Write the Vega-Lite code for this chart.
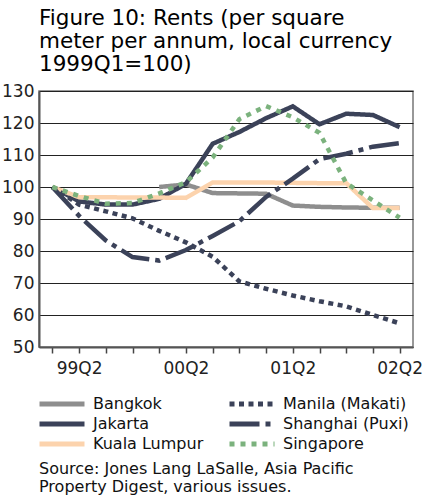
{
  "$schema": "https://vega.github.io/schema/vega-lite/v6.json",
  "width": 374,
  "height": 256,
  "padding": {"left": 1, "top": 7, "right": 5, "bottom": 0},
  "background": "white",
  "title": {
    "text": ["Figure 10: Rents (per square", "meter per annum, local currency", "1999Q1=100)"],
    "anchor": "start",
    "frame": "group",
    "font": "DejaVu Sans",
    "fontSize": 21.5,
    "fontWeight": "normal",
    "color": "#000000",
    "lineHeight": 23,
    "offset": 7
  },
  "config": {
    "font": "DejaVu Sans",
    "view": {"stroke": "#777777", "strokeWidth": 1.5}
  },
  "data": {
    "values": [
      {"q": "00Q1", "city": "Bangkok", "v": 100.0},
      {"q": "00Q2", "city": "Bangkok", "v": 100.8},
      {"q": "00Q3", "city": "Bangkok", "v": 98.1},
      {"q": "00Q4", "city": "Bangkok", "v": 98.0},
      {"q": "01Q1", "city": "Bangkok", "v": 97.9},
      {"q": "01Q2", "city": "Bangkok", "v": 94.2},
      {"q": "01Q3", "city": "Bangkok", "v": 93.8},
      {"q": "01Q4", "city": "Bangkok", "v": 93.6},
      {"q": "02Q1", "city": "Bangkok", "v": 93.5},
      {"q": "02Q2", "city": "Bangkok", "v": 93.5},
      {"q": "99Q1", "city": "Jakarta", "v": 100.0},
      {"q": "99Q2", "city": "Jakarta", "v": 95.5},
      {"q": "99Q3", "city": "Jakarta", "v": 94.5},
      {"q": "99Q4", "city": "Jakarta", "v": 94.5},
      {"q": "00Q1", "city": "Jakarta", "v": 96.3},
      {"q": "00Q2", "city": "Jakarta", "v": 101.0},
      {"q": "00Q3", "city": "Jakarta", "v": 113.5},
      {"q": "00Q4", "city": "Jakarta", "v": 117.2},
      {"q": "01Q1", "city": "Jakarta", "v": 121.5},
      {"q": "01Q2", "city": "Jakarta", "v": 125.2},
      {"q": "01Q3", "city": "Jakarta", "v": 119.6},
      {"q": "01Q4", "city": "Jakarta", "v": 122.9},
      {"q": "02Q1", "city": "Jakarta", "v": 122.5},
      {"q": "02Q2", "city": "Jakarta", "v": 118.7},
      {"q": "99Q1", "city": "Kuala Lumpur", "v": 100.0},
      {"q": "99Q2", "city": "Kuala Lumpur", "v": 96.8},
      {"q": "99Q3", "city": "Kuala Lumpur", "v": 96.8},
      {"q": "99Q4", "city": "Kuala Lumpur", "v": 96.7},
      {"q": "00Q1", "city": "Kuala Lumpur", "v": 96.7},
      {"q": "00Q2", "city": "Kuala Lumpur", "v": 96.6},
      {"q": "00Q3", "city": "Kuala Lumpur", "v": 101.4},
      {"q": "00Q4", "city": "Kuala Lumpur", "v": 101.4},
      {"q": "01Q1", "city": "Kuala Lumpur", "v": 101.4},
      {"q": "01Q2", "city": "Kuala Lumpur", "v": 101.3},
      {"q": "01Q3", "city": "Kuala Lumpur", "v": 101.2},
      {"q": "01Q4", "city": "Kuala Lumpur", "v": 101.2},
      {"q": "02Q1", "city": "Kuala Lumpur", "v": 93.4},
      {"q": "02Q2", "city": "Kuala Lumpur", "v": 93.4},
      {"q": "99Q1", "city": "Manila (Makati)", "v": 100.0},
      {"q": "99Q2", "city": "Manila (Makati)", "v": 94.5},
      {"q": "99Q3", "city": "Manila (Makati)", "v": 92.4},
      {"q": "99Q4", "city": "Manila (Makati)", "v": 90.2},
      {"q": "00Q1", "city": "Manila (Makati)", "v": 86.3},
      {"q": "00Q2", "city": "Manila (Makati)", "v": 82.7},
      {"q": "00Q3", "city": "Manila (Makati)", "v": 78.2},
      {"q": "00Q4", "city": "Manila (Makati)", "v": 70.5},
      {"q": "01Q1", "city": "Manila (Makati)", "v": 68.2},
      {"q": "01Q2", "city": "Manila (Makati)", "v": 66.1},
      {"q": "01Q3", "city": "Manila (Makati)", "v": 64.3},
      {"q": "01Q4", "city": "Manila (Makati)", "v": 62.7},
      {"q": "02Q1", "city": "Manila (Makati)", "v": 60.0},
      {"q": "02Q2", "city": "Manila (Makati)", "v": 57.4},
      {"q": "99Q1", "city": "Shanghai (Puxi)", "v": 100.0},
      {"q": "99Q2", "city": "Shanghai (Puxi)", "v": 91.0},
      {"q": "99Q3", "city": "Shanghai (Puxi)", "v": 83.3},
      {"q": "99Q4", "city": "Shanghai (Puxi)", "v": 78.1},
      {"q": "00Q1", "city": "Shanghai (Puxi)", "v": 77.0},
      {"q": "00Q2", "city": "Shanghai (Puxi)", "v": 80.3},
      {"q": "00Q3", "city": "Shanghai (Puxi)", "v": 84.7},
      {"q": "00Q4", "city": "Shanghai (Puxi)", "v": 89.3},
      {"q": "01Q1", "city": "Shanghai (Puxi)", "v": 96.9},
      {"q": "01Q2", "city": "Shanghai (Puxi)", "v": 102.6},
      {"q": "01Q3", "city": "Shanghai (Puxi)", "v": 108.7},
      {"q": "01Q4", "city": "Shanghai (Puxi)", "v": 110.4},
      {"q": "02Q1", "city": "Shanghai (Puxi)", "v": 112.6},
      {"q": "02Q2", "city": "Shanghai (Puxi)", "v": 113.7},
      {"q": "99Q1", "city": "Singapore", "v": 100.0},
      {"q": "99Q2", "city": "Singapore", "v": 97.2},
      {"q": "99Q3", "city": "Singapore", "v": 94.8},
      {"q": "99Q4", "city": "Singapore", "v": 95.0},
      {"q": "00Q1", "city": "Singapore", "v": 98.0},
      {"q": "00Q2", "city": "Singapore", "v": 101.5},
      {"q": "00Q3", "city": "Singapore", "v": 109.2},
      {"q": "00Q4", "city": "Singapore", "v": 121.2},
      {"q": "01Q1", "city": "Singapore", "v": 125.3},
      {"q": "01Q2", "city": "Singapore", "v": 121.8},
      {"q": "01Q3", "city": "Singapore", "v": 116.9},
      {"q": "01Q4", "city": "Singapore", "v": 101.2},
      {"q": "02Q1", "city": "Singapore", "v": 95.8},
      {"q": "02Q2", "city": "Singapore", "v": 90.4}
    ]
  },
  "mark": {"type": "line", "strokeWidth": 4.5, "strokeCap": "butt", "strokeJoin": "miter"},
  "encoding": {
    "x": {
      "field": "q",
      "type": "ordinal",
      "sort": ["99Q1","99Q2","99Q3","99Q4","00Q1","00Q2","00Q3","00Q4","01Q1","01Q2","01Q3","01Q4","02Q1","02Q2"],
      "scale": {"type": "point", "padding": 0.5},
      "axis": {
        "title": null,
        "labelAngle": 0,
        "labelExpr": "indexof(['99Q2','00Q2','01Q2','02Q2'], datum.label) >= 0 ? datum.label : ''",
        "labelOverlap": false,
        "labelFont": "DejaVu Sans",
        "labelFontSize": 17,
        "labelColor": "#222222",
        "labelPadding": 7,
        "ticks": true,
        "tickSize": 6,
        "tickWidth": 1.5,
        "tickColor": "#444444",
        "domainColor": "#555555",
        "domainWidth": 2,
        "grid": false
      }
    },
    "y": {
      "field": "v",
      "type": "quantitative",
      "scale": {"domain": [50, 130], "nice": false, "zero": false},
      "axis": {
        "title": null,
        "values": [50, 60, 70, 80, 90, 100, 110, 120, 130],
        "ticks": false,
        "labelFont": "DejaVu Sans",
        "labelFontSize": 17,
        "labelColor": "#222222",
        "labelPadding": 5,
        "grid": true,
        "gridColor": "#222222",
        "gridWidth": 1,
        "domainColor": "#555555",
        "domainWidth": 2
      }
    },
    "color": {
      "field": "city",
      "type": "nominal",
      "scale": {
        "domain": ["Bangkok", "Manila (Makati)", "Jakarta", "Shanghai (Puxi)", "Kuala Lumpur", "Singapore"],
        "range": ["#8e8e8e", "#3b4259", "#3b4259", "#3b4259", "#fcd3ad", "#7bb27d"]
      },
      "legend": {
        "title": ["Source: Jones Lang LaSalle, Asia Pacific", "Property Digest, various issues."],
        "orient": "bottom",
        "columns": 2,
        "symbolType": "M-1.5,0H7.5",
        "symbolSize": 100,
        "symbolStrokeWidth": 5,
        "labelFont": "DejaVu Sans",
        "labelFontSize": 16,
        "labelColor": "#111111",
        "labelOffset": 38,
        "columnPadding": 15,
        "rowPadding": 0,
        "titleOrient": "bottom",
        "titleAnchor": "start",
        "titleFont": "DejaVu Sans",
        "titleFontSize": 16,
        "titleFontWeight": "normal",
        "titleColor": "#111111",
        "titleLineHeight": 18,
        "titlePadding": 7,
        "titleLimit": 420,
        "offset": 20,
        "padding": 0
      }
    },
    "strokeDash": {
      "field": "city",
      "type": "nominal",
      "scale": {
        "domain": ["Bangkok", "Manila (Makati)", "Jakarta", "Shanghai (Puxi)", "Kuala Lumpur", "Singapore"],
        "range": [[1, 0], [5, 4.5], [1, 0], [30, 6, 5, 6], [1, 0], [5, 6]]
      },
      "legend": {
        "title": ["Source: Jones Lang LaSalle, Asia Pacific", "Property Digest, various issues."]
      }
    }
  }
}
